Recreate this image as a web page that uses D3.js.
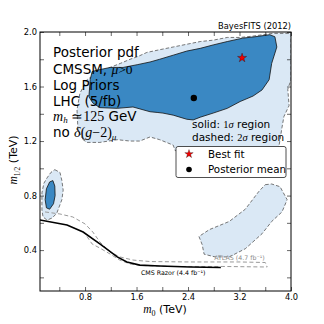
<!DOCTYPE html>
<html><head><meta charset="utf-8">
<script src="https://cdn.jsdelivr.net/npm/d3@7"></script>
<style>body{margin:0;background:#fff}svg{display:block}</style>
</head><body><div id="c"></div>
<script>
// ---- data (TeV) ----
const twoSigmaMain = [[0.77,1.21],[0.69,1.28],[0.675,1.43],[0.72,1.55],[0.83,1.65],[0.99,1.70],[1.19,1.74],[1.35,1.77],[1.50,1.80],[1.62,1.82],[1.76,1.85],[1.96,1.87],[2.17,1.89],[2.38,1.91],[2.59,1.93],[2.79,1.94],[3.01,1.96],[3.21,1.96],[3.41,1.97],[3.56,1.98],[3.72,1.99],[3.86,1.99],[4.0,1.99],[4.0,1.65],[3.95,1.58],[3.97,1.46],[3.89,1.38],[3.86,1.30],[3.83,1.21],[3.80,1.13],[2.20,1.13],[2.17,1.17],[1.96,1.21],[1.81,1.23],[1.65,1.20],[1.50,1.20],[1.30,1.21],[1.03,1.19],[0.83,1.19]];
const oneSigmaMain = [[0.91,1.71],[0.99,1.72],[1.19,1.74],[1.39,1.74],[1.61,1.76],[1.81,1.78],[1.96,1.80],[2.17,1.83],[2.38,1.86],[2.59,1.88],[2.79,1.905],[3.01,1.93],[3.25,1.955],[3.44,1.965],[3.67,1.98],[3.75,1.965],[3.78,1.89],[3.70,1.77],[3.66,1.65],[3.55,1.575],[3.41,1.53],[3.21,1.49],[3.01,1.44],[2.79,1.405],[2.59,1.375],[2.48,1.355],[2.38,1.36],[2.17,1.39],[2.01,1.405],[1.92,1.41],[1.81,1.415],[1.545,1.45],[1.30,1.44],[1.03,1.445],[0.92,1.48],[0.86,1.525],[0.88,1.65]];
const twoSigmaSmall = [[0.33,0.99],[0.41,0.97],[0.44,0.91],[0.46,0.84],[0.44,0.77],[0.36,0.67],[0.29,0.636],[0.21,0.62],[0.147,0.643],[0.13,0.694],[0.13,0.82],[0.16,0.89],[0.21,0.93],[0.27,0.97]];
const oneSigmaSmall = [[0.30,0.91],[0.33,0.87],[0.335,0.80],[0.31,0.74],[0.25,0.70],[0.20,0.71],[0.18,0.77],[0.20,0.85],[0.25,0.90]];
const twoSigmaRight = [[3.60,0.88],[3.70,0.885],[3.83,0.865],[3.94,0.77],[3.86,0.68],[3.70,0.61],[3.55,0.52],[3.29,0.41],[3.04,0.35],[2.82,0.35],[2.65,0.37],[2.62,0.44],[2.57,0.50],[2.73,0.55],[3.04,0.61],[3.29,0.70],[3.50,0.83]];
const cmsRazor = [[0.1,0.621],[0.52,0.584],[0.77,0.533],[1.03,0.445],[1.30,0.35],[1.45,0.313],[1.65,0.29],[1.96,0.283],[2.43,0.276],[2.91,0.272]];
const atlasUpper = [[0.178,0.68],[0.41,0.665],[0.61,0.643],[0.80,0.592],[0.92,0.533],[1.03,0.46],[1.19,0.386],[1.34,0.35],[1.545,0.327],[1.81,0.316],[2.43,0.313],[3.21,0.313],[3.60,0.309],[3.63,0.276]];
const atlasLower = [[0.83,0.50],[0.91,0.445],[1.03,0.415],[1.19,0.371],[1.34,0.327],[1.50,0.298],[1.70,0.287],[2.12,0.28],[2.93,0.28],[3.63,0.276]];
const bestFit = [3.24, 1.81];
const posteriorMean = [2.49, 1.516];
const cmsLabelPos = [2.17, 0.215];
const atlasLabelPos = [3.20, 0.325];
const xTicks = [0.4,0.8,1.2,1.6,2.0,2.4,2.8,3.2,3.6,4.0];
const xTickLabels = {0.8:"0.8",1.6:"1.6",2.4:"2.4",3.2:"3.2",4.0:"4.0"};
const yTicks = [0.2,0.4,0.6,0.8,1.0,1.2,1.4,1.6,1.8,2.0];
const yTickLabels = {0.4:"0.4",0.8:"0.8",1.2:"1.2",1.6:"1.6",2.0:"2.0"};
const legendItems = ["Best fit","Posterior mean"];

// ---- layout ----
const W=324,H=324, L=40,R=291,T=32,B=291;
const x = d3.scaleLinear([0.1,4.0],[L,R]);
const y = d3.scaleLinear([0.1,2.0],[B,T]);
const DARK="#3a88c3", LIGHT="#dae8f5";
const svg = d3.select("#c").append("svg").attr("width",W).attr("height",H);
svg.append("defs").append("clipPath").attr("id","clip").append("rect")
  .attr("x",L).attr("y",T).attr("width",R-L).attr("height",B-T);
const g = svg.append("g").attr("clip-path","url(#clip)");
const line = d3.line().x(d=>x(d[0])).y(d=>y(d[1]));
const closed = d3.line().x(d=>x(d[0])).y(d=>y(d[1])).curve(d3.curveLinearClosed);

[twoSigmaMain,twoSigmaSmall,twoSigmaRight].forEach(p=>{
  g.append("path").attr("d",closed(p)).attr("fill",LIGHT).attr("stroke","#555").attr("stroke-width",0.8).attr("stroke-dasharray","3.5,2");
});
[oneSigmaMain,oneSigmaSmall].forEach(p=>{
  g.append("path").attr("d",closed(p)).attr("fill",DARK).attr("stroke","#111").attr("stroke-width",0.8);
});
g.append("path").attr("d",line(atlasUpper)).attr("fill","none").attr("stroke","#999").attr("stroke-width",1).attr("stroke-dasharray","4,2.5");
g.append("path").attr("d",line(atlasLower)).attr("fill","none").attr("stroke","#999").attr("stroke-width",1).attr("stroke-dasharray","4,2.5");
g.append("path").attr("d",line(cmsRazor)).attr("fill","none").attr("stroke","#000").attr("stroke-width",1.6);

const sans="DejaVu Sans", serif="Liberation Serif";
g.append("text").attr("x",x(cmsLabelPos[0])).attr("y",y(cmsLabelPos[1])).attr("text-anchor","middle")
  .attr("font-family",sans).attr("font-size",6.3).attr("fill","#000").text("CMS Razor (4.4 fb⁻¹)");
g.append("text").attr("x",x(atlasLabelPos[0])).attr("y",y(atlasLabelPos[1])).attr("text-anchor","middle")
  .attr("font-family",sans).attr("font-size",6.3).attr("fill","#8a8a8a").text("ATLAS (4.7 fb⁻¹)");

// markers
svg.append("path").attr("d",d3.symbol(d3.symbolStar,26)()).attr("transform",`translate(${x(bestFit[0])},${y(bestFit[1])})`)
  .attr("fill","#f00000").attr("stroke","#000").attr("stroke-width",0.3);
svg.append("circle").attr("cx",x(posteriorMean[0])).attr("cy",y(posteriorMean[1])).attr("r",3.2).attr("fill","#000");

// text block
const tb = svg.append("g").attr("font-family",sans).attr("font-size",13.5).attr("fill","#000");
tb.append("text").attr("x",53).attr("y",57).text("Posterior pdf");
let t=tb.append("text").attr("x",53).attr("y",74); t.append("tspan").text("CMSSM, ");
t.append("tspan").attr("font-family",serif).attr("font-style","italic").text("μ");
t.append("tspan").attr("font-family",serif).text(">0");
tb.append("text").attr("x",53).attr("y",90).text("Log Priors");
tb.append("text").attr("x",53).attr("y",106).text("LHC (5/fb)");
t=tb.append("text").attr("x",53).attr("y",121);
t.append("tspan").attr("font-family",serif).attr("font-style","italic").attr("font-size",14).text("m");
t.append("tspan").attr("font-family",serif).attr("font-style","italic").attr("font-size",9).attr("dy",2).text("h");
t.append("tspan").attr("font-family",serif).attr("font-size",14).attr("dy",-2).text(" ≃125");
t.append("tspan").text(" GeV");
t=tb.append("text").attr("x",53).attr("y",137);
t.append("tspan").text("no ");
t.append("tspan").attr("font-family",serif).attr("font-style","italic").attr("font-size",14).text("δ");
t.append("tspan").attr("font-family",serif).attr("font-size",14).text("(");
t.append("tspan").attr("font-family",serif).attr("font-style","italic").attr("font-size",14).text("g");
t.append("tspan").attr("font-family",serif).attr("font-size",14).text("−2)");
t.append("tspan").attr("font-family",serif).attr("font-style","italic").attr("font-size",9).attr("dy",2.5).text("μ");

const sb = svg.append("g").attr("font-family",sans).attr("font-size",10.5).attr("fill","#000");
t=sb.append("text").attr("x",192).attr("y",128); t.append("tspan").text("solid: ");
t.append("tspan").attr("font-family",serif).text("1"); t.append("tspan").attr("font-family",serif).attr("font-style","italic").text("σ");
t.append("tspan").text(" region");
t=sb.append("text").attr("x",192).attr("y",141); t.append("tspan").text("dashed: ");
t.append("tspan").attr("font-family",serif).text("2"); t.append("tspan").attr("font-family",serif).attr("font-style","italic").text("σ");
t.append("tspan").text(" region");

// legend
const lg = svg.append("g");
lg.append("rect").attr("x",176).attr("y",146.5).attr("width",110).attr("height",31).attr("rx",2)
  .attr("fill","#fff").attr("stroke","#222").attr("stroke-width",0.8);
lg.append("path").attr("d",d3.symbol(d3.symbolStar,22)()).attr("transform","translate(189,154)")
  .attr("fill","#f00000").attr("stroke","#000").attr("stroke-width",0.3);
lg.append("circle").attr("cx",189).attr("cy",169.5).attr("r",2.8).attr("fill","#000");
lg.selectAll("text.l").data(legendItems).join("text").attr("class","l")
  .attr("x",208).attr("y",(d,i)=>157.5+i*15.5).attr("font-family",sans).attr("font-size",10.3).text(d=>d);

// axes
const ax = svg.append("g").attr("font-family",sans);
ax.append("g").attr("transform",`translate(0,${B})`)
  .call(d3.axisBottom(x).tickValues(xTicks).tickSize(-4).tickPadding(3.5).tickFormat(d=>xTickLabels[d]||""));
ax.append("g").attr("transform",`translate(0,${T})`)
  .call(d3.axisTop(x).tickValues(xTicks).tickSize(-4).tickFormat(""));
ax.append("g").attr("transform",`translate(${L},0)`)
  .call(d3.axisLeft(y).tickValues(yTicks).tickSize(-4).tickPadding(3).tickFormat(d=>yTickLabels[d]||""));
ax.append("g").attr("transform",`translate(${R},0)`)
  .call(d3.axisRight(y).tickValues(yTicks).tickSize(-4).tickFormat(""));
ax.selectAll(".domain").remove();
ax.selectAll("text").attr("font-size",8.3).attr("font-family",sans).attr("fill","#000");
ax.selectAll("line").attr("stroke","#000").attr("stroke-width",0.6);
svg.append("rect").attr("x",L).attr("y",T).attr("width",R-L).attr("height",B-T).attr("fill","none").attr("stroke","#000").attr("stroke-width",1);

svg.append("text").attr("x",R).attr("y",29).attr("text-anchor","end").attr("font-family",sans).attr("font-size",8.3).text("BayesFITS (2012)");

// axis labels
t=svg.append("text").attr("x",165).attr("y",313).attr("text-anchor","middle").attr("font-family",sans).attr("font-size",11);
t.append("tspan").attr("font-family",serif).attr("font-style","italic").attr("font-size",11.5).text("m");
t.append("tspan").attr("font-family",serif).attr("font-size",8).attr("dy",2.5).text("0");
t.append("tspan").attr("dy",-2.5).text(" (TeV)");
t=svg.append("text").attr("transform","translate(17,160) rotate(-90)").attr("text-anchor","middle").attr("font-family",sans).attr("font-size",11);
t.append("tspan").attr("font-family",serif).attr("font-style","italic").attr("font-size",11.5).text("m");
t.append("tspan").attr("font-family",serif).attr("font-size",7.5).attr("dy",2.5).text("1/2");
t.append("tspan").attr("dy",-2.5).text(" (TeV)");
</script></body></html>
